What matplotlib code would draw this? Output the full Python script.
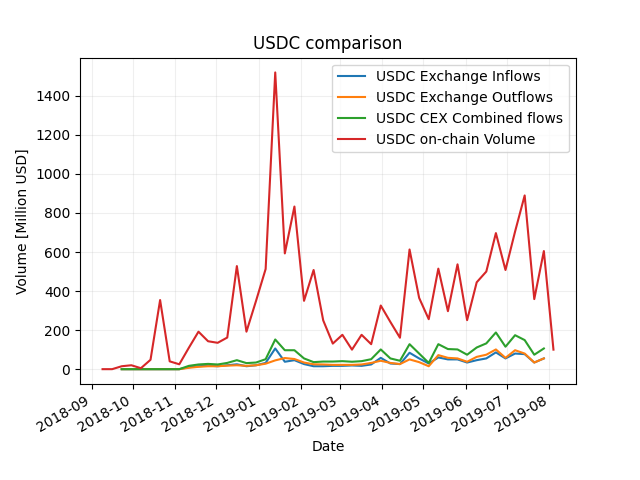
import pandas as pd
import matplotlib
matplotlib.use('Agg')
import matplotlib.pyplot as plt

# weekly on-chain volume, Million USD
volume_start = '2018-09-09'
onchain_volume = [0, 0, 15, 20, 5, 48, 354, 40, 25, 110, 192, 143, 135, 162, 528, 192,
                  350, 513, 1520, 593, 833, 350, 508, 250, 131, 176, 100, 176, 128, 326,
                  242, 161, 613, 365, 256, 515, 297, 537, 251, 445, 500, 697, 508, 705,
                  890, 359, 605, 100]

# weekly exchange flows, Million USD
flows_start = '2018-09-23'
inflows = [0, 0, 0, 0, 0, 0, 0, 10, 15, 18, 15, 20, 25, 15, 20, 32, 106, 38, 46, 26,
           15, 15, 17, 17, 19, 17, 24, 58, 29, 26, 84, 55, 29, 60, 50, 50, 34, 46, 55,
           86, 55, 80, 77, 34, 55]
outflows = [0, 0, 0, 0, 0, 0, 0, 7, 12, 15, 15, 18, 20, 17, 20, 28, 45, 57, 52, 34,
            25, 24, 22, 22, 22, 24, 32, 43, 32, 26, 50, 36, 15, 72, 58, 55, 38, 63, 74,
            101, 58, 97, 80, 34, 55]
combined = [0, 0, 0, 0, 0, 0, 0, 17, 24, 27, 24, 32, 46, 31, 34, 51, 152, 97, 97, 55,
            36, 39, 39, 41, 38, 41, 51, 101, 55, 43, 128, 80, 32, 128, 103, 101, 74, 111,
            132, 188, 115, 174, 149, 74, 106]

volume_dates = pd.date_range(volume_start, periods=len(onchain_volume), freq='W')
flow_dates = pd.date_range(flows_start, periods=len(inflows), freq='W')

fig = plt.figure(figsize=(6.4, 4.8), dpi=100)
plt.plot(flow_dates, inflows, label='USDC Exchange Inflows')
plt.plot(flow_dates, outflows, label='USDC Exchange Outflows')
plt.plot(flow_dates, combined, label='USDC CEX Combined flows')
plt.plot(volume_dates, onchain_volume, label='USDC on-chain Volume')
plt.grid(alpha=0.2)
plt.legend(loc='upper right')
plt.title('USDC comparison')
plt.xlabel('Date')
plt.ylabel('Volume [Million USD]')
fig.autofmt_xdate()
plt.savefig('out.png')
